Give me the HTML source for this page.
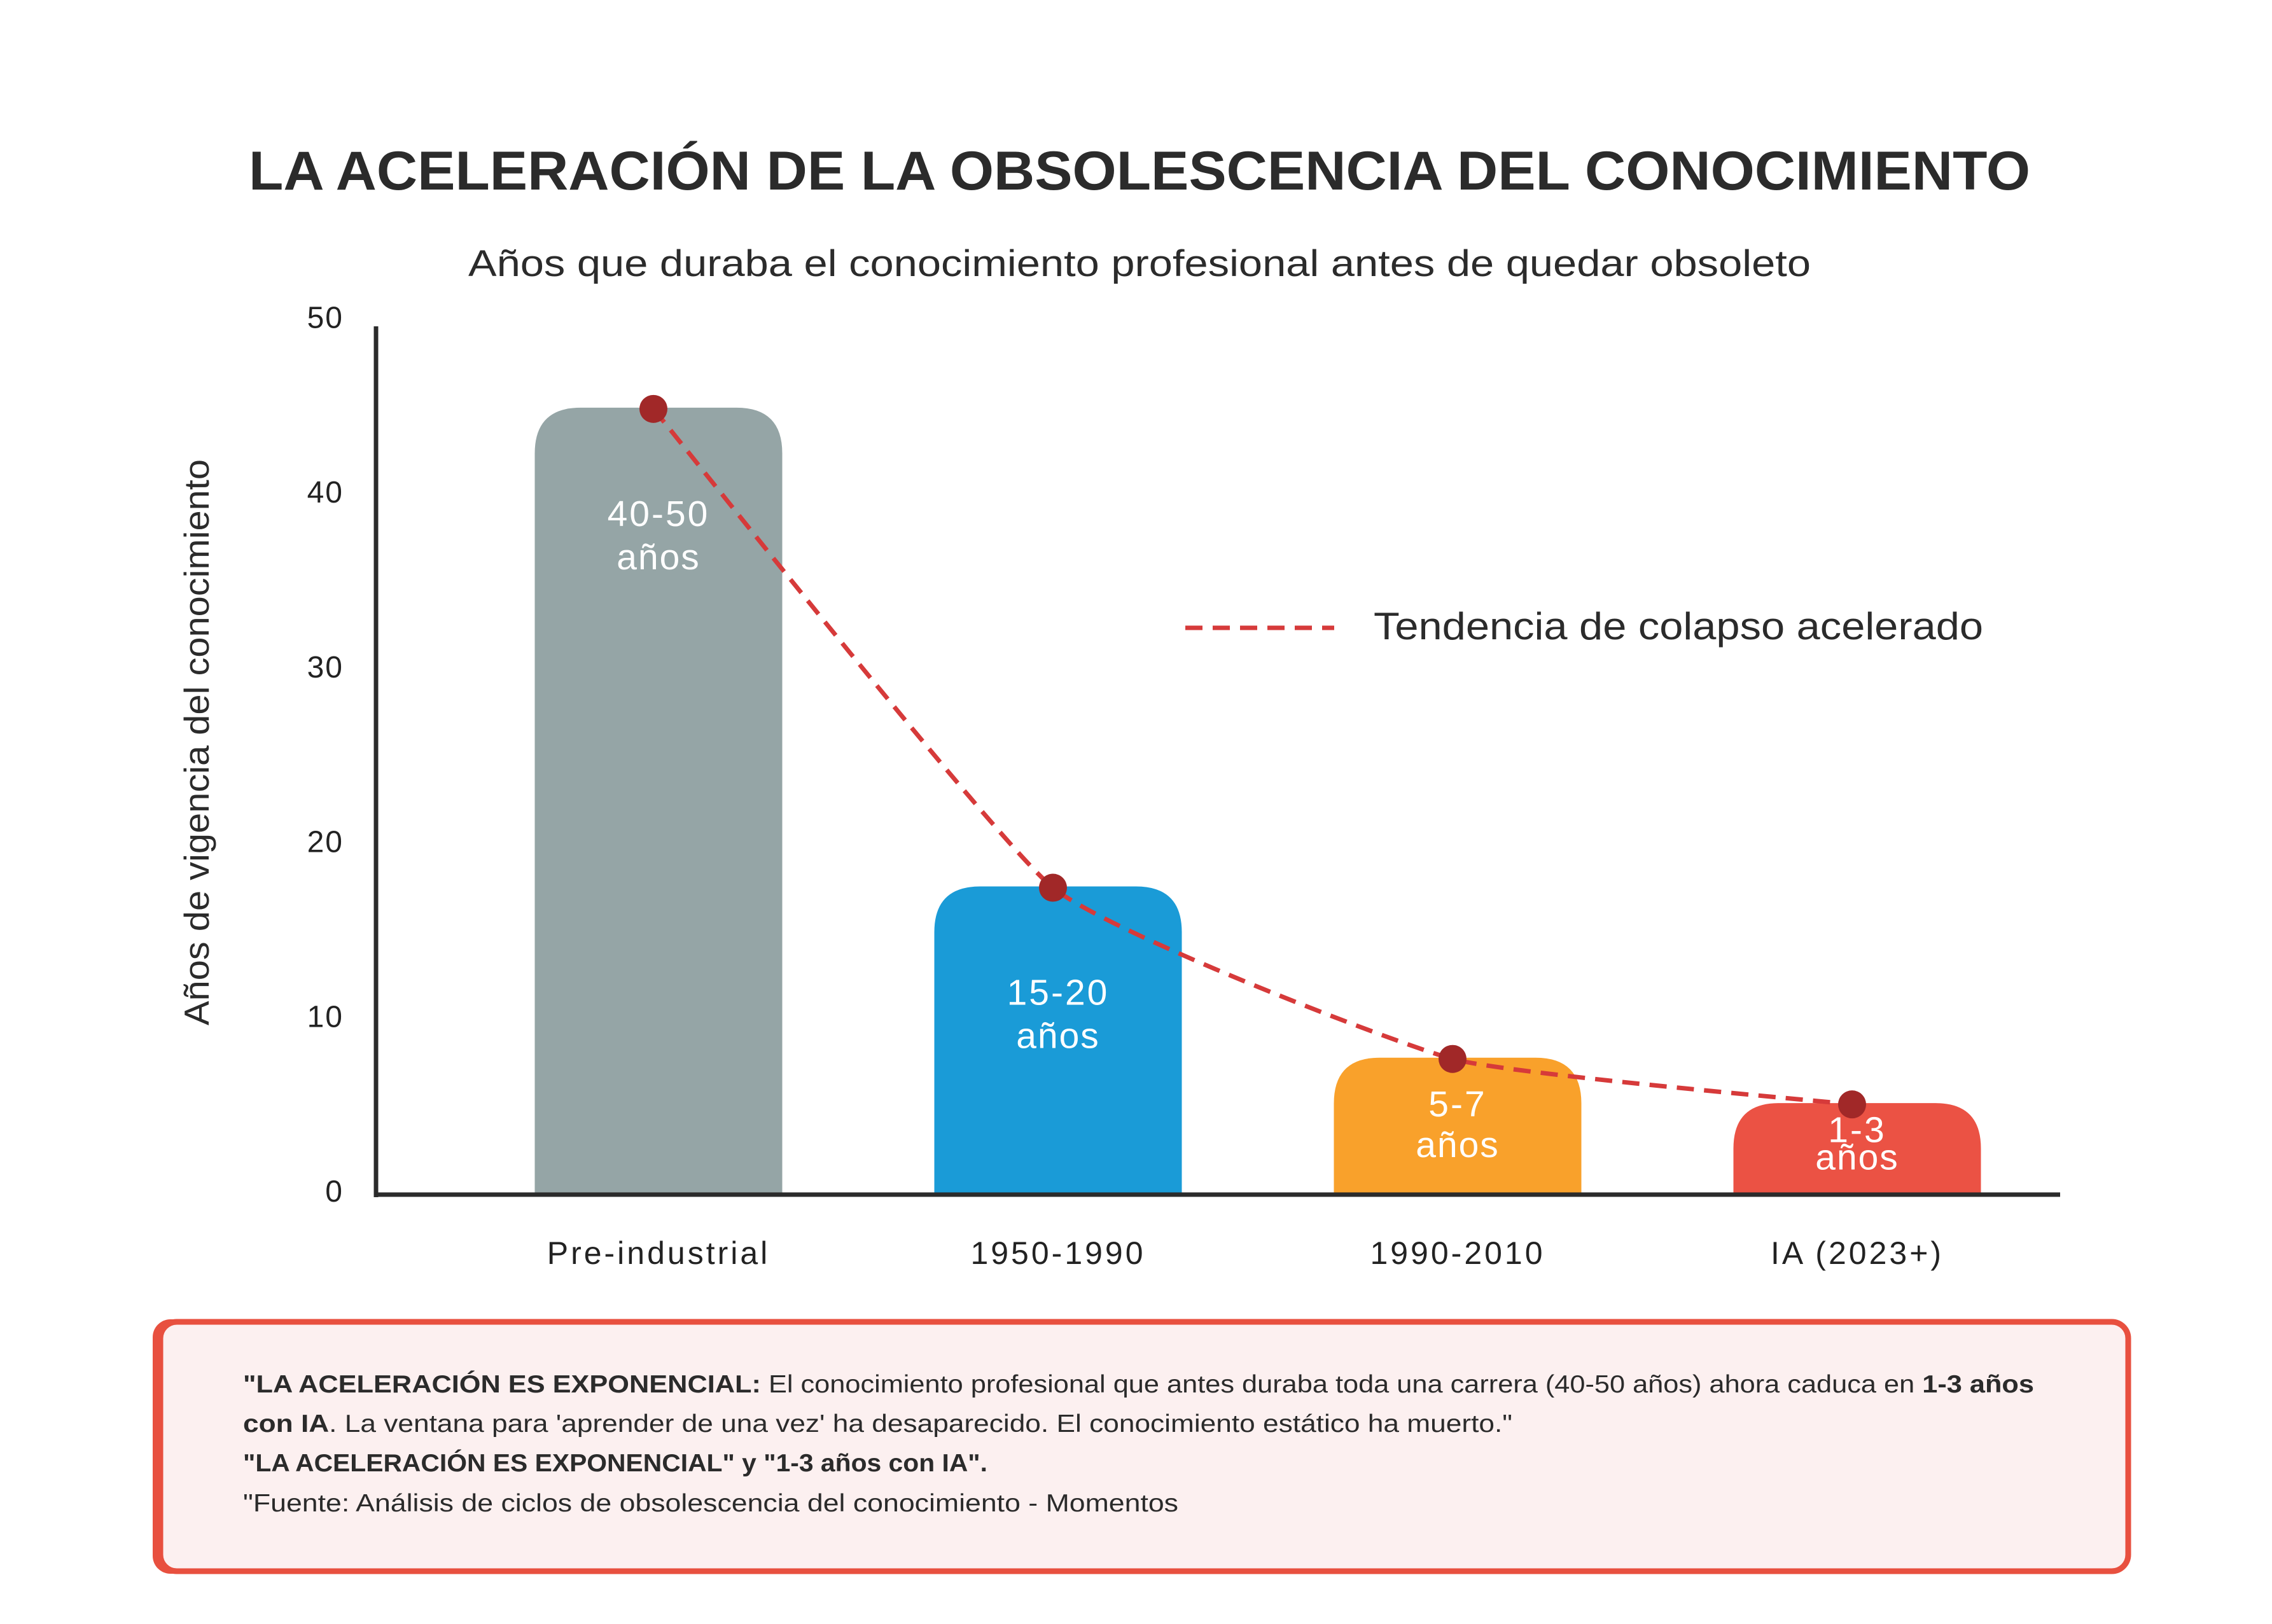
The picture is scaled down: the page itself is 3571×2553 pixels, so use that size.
<!DOCTYPE html>
<html><head><meta charset="utf-8">
<style>
html,body{margin:0;padding:0;background:#fff;}
svg{display:block;font-family:"Liberation Sans",sans-serif;}
</style></head>
<body>
<svg id="chart" width="3571" height="2553" viewBox="0 0 3571 2553" xmlns="http://www.w3.org/2000/svg">
<rect width="3571" height="2553" fill="#ffffff"/>
<text x="1791" y="298" text-anchor="middle" font-size="86" font-weight="bold" fill="#2b2b2b" textLength="2800" lengthAdjust="spacingAndGlyphs">LA ACELERACIÓN DE LA OBSOLESCENCIA DEL CONOCIMIENTO</text>
<text x="1791" y="434" text-anchor="middle" font-size="58" fill="#2b2b2b" textLength="2110" lengthAdjust="spacingAndGlyphs">Años que duraba el conocimiento profesional antes de quedar obsoleto</text>
<text transform="translate(328,1167) rotate(-90)" text-anchor="middle" font-size="55" fill="#2b2b2b" textLength="890" lengthAdjust="spacingAndGlyphs">Años de vigencia del conocimiento</text>
<g id="bars"></g>
<g id="ticks"></g>
<g id="xlabels"></g>
<line x1="591" y1="513" x2="591" y2="1882" stroke="#2b2b2b" stroke-width="7"/>
<line x1="588" y1="1878" x2="3238" y2="1878" stroke="#2b2b2b" stroke-width="7"/>
<path id="trend" fill="none" stroke="#d63a3a" stroke-width="7" stroke-dasharray="27 16"/>
<g id="dots"></g>
<g>
<line x1="1863" y1="987" x2="2097" y2="987" stroke="#d63a3a" stroke-width="7" stroke-dasharray="27 16"/>
<text x="2159" y="1005" font-size="60" fill="#2b2b2b" textLength="958" lengthAdjust="spacingAndGlyphs">Tendencia de colapso acelerado</text>
</g>
<g>
<rect x="240" y="2074" width="60" height="400" rx="28" fill="#e8503f"/>
<rect x="252" y="2078" width="3093" height="392" rx="26" fill="#fcf0f0" stroke="#e8503f" stroke-width="9"/>
<text x="382" y="2189" font-size="39" fill="#2b2b2b" textLength="2815" lengthAdjust="spacingAndGlyphs"><tspan font-weight="bold">"LA ACELERACIÓN ES EXPONENCIAL:</tspan> El conocimiento profesional que antes duraba toda una carrera (40-50 años) ahora caduca en <tspan font-weight="bold">1-3 años</tspan></text>
<text x="382" y="2251" font-size="39" fill="#2b2b2b" textLength="1995" lengthAdjust="spacingAndGlyphs"><tspan font-weight="bold">con IA</tspan>. La ventana para 'aprender de una vez' ha desaparecido. El conocimiento estático ha muerto."</text>
<text x="382" y="2313" font-size="39" font-weight="bold" fill="#2b2b2b" textLength="1170" lengthAdjust="spacingAndGlyphs">"LA ACELERACIÓN ES EXPONENCIAL" y "1-3 años con IA".</text>
<text x="382" y="2376" font-size="39" fill="#2b2b2b" textLength="1470" lengthAdjust="spacingAndGlyphs">"Fuente: Análisis de ciclos de obsolescencia del conocimiento - Momentos</text>
</g>
</svg>
<script>
const categories = ["Pre-industrial", "1950-1990", "1990-2010", "IA (2023+)"];
const values = [45, 17.6, 7.8, 5.2];
const labelTop = ["40-50", "15-20", "5-7", "1-3"];
const labelBottom = ["años", "años", "años", "años"];
const colors = ["#95a5a6", "#1a9bd7", "#f9a12b", "#eb5244"];
const tickValues = [0, 10, 20, 30, 40, 50];

const NS = "http://www.w3.org/2000/svg";
const y0 = 1877, unit = 27.47;
const yScale = v => y0 - v * unit;
const xStart = 1035, xStep = 628;
const xScale = i => xStart + i * xStep;
const barW = 389, rad = 72;

function mk(tag, attrs, parent) {
  const e = document.createElementNS(NS, tag);
  for (const k in attrs) e.setAttribute(k, attrs[k]);
  parent.appendChild(e);
  return e;
}

const barsG = document.getElementById('bars');
categories.forEach((c, i) => {
  const cx = xScale(i), top = yScale(values[i]), x = cx - barW / 2, h = y0 - top;
  const r = Math.min(rad, h / 2);
  const p = mk('path', {d: `M${x},${y0} L${x},${top + r} Q${x},${top} ${x + r},${top} L${x + barW - r},${top} Q${x + barW},${top} ${x + barW},${top + r} L${x + barW},${y0} Z`, fill: colors[i]}, barsG);
  
  
  const off = Math.min(186, h * 0.43), gap = Math.min(68, h * 0.3);
  const t1 = mk('text', {x: cx, y: top + off, 'text-anchor': 'middle', 'font-size': 57, fill: '#ffffff', 'letter-spacing': 3}, barsG);
  t1.textContent = labelTop[i];
  
  
  const t2 = mk('text', {x: cx, y: top + off + gap, 'text-anchor': 'middle', 'font-size': 57, fill: '#ffffff', 'letter-spacing': 2}, barsG);
  t2.textContent = labelBottom[i];
  
  
  const xl = mk('text', {x: cx, y: 1987, 'text-anchor': 'middle', 'font-size': 50, fill: '#222222', 'letter-spacing': 4}, document.getElementById('xlabels'));
  xl.textContent = c;
  
  
});

const ticksG = document.getElementById('ticks');
tickValues.forEach(v => {
  const t = mk('text', {x: 540, y: yScale(v) + 12, 'text-anchor': 'end', 'font-size': 48, fill: '#222222', 'letter-spacing': 2}, ticksG);
  t.textContent = v;
  
  
});

const pts = values.map((v, i) => [xScale(i) - 8, yScale(v) + 2]);
let d = `M${pts[0][0]},${pts[0][1]}`;
for (let i = 0; i < pts.length - 1; i++) {
  const p0 = pts[Math.max(0, i - 1)], p1 = pts[i], p2 = pts[i + 1], p3 = pts[Math.min(pts.length - 1, i + 2)];
  const t = 0.07;
  const c1 = [p1[0] + (p2[0] - p0[0]) * t, p1[1] + (p2[1] - p0[1]) * t];
  const c2 = [p2[0] - (p3[0] - p1[0]) * t, p2[1] - (p3[1] - p1[1]) * t];
  d += ` C${c1[0]},${c1[1]} ${c2[0]},${c2[1]} ${p2[0]},${p2[1]}`;
}
document.getElementById('trend').setAttribute('d', d);
const dotsG = document.getElementById('dots');
pts.forEach(p => {
  const c = mk('circle', {cx: p[0], cy: p[1], r: 22, fill: '#a12828'}, dotsG);
  
  
});
</script>
</body></html>
